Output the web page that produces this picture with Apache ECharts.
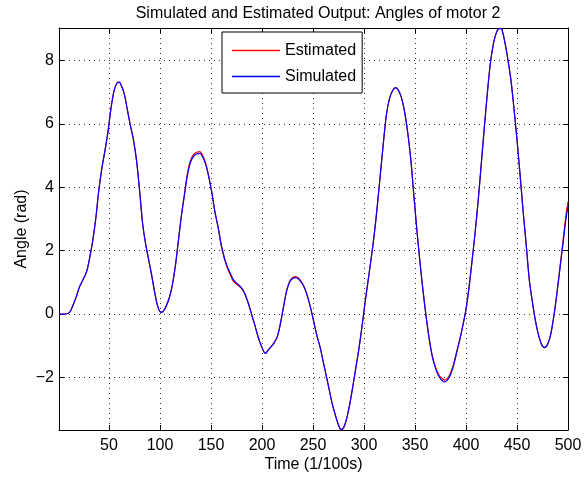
<!DOCTYPE html>
<html><head><meta charset="utf-8">
<script src="https://cdn.jsdelivr.net/npm/echarts@6/dist/echarts.min.js"></script>
<style>html,body{margin:0;padding:0;background:#fff}#c{width:587px;height:478px}</style>
</head><body><div id="c"></div>
<script>
const titleText = 'Simulated and Estimated Output: Angles of motor 2';
const xName = 'Time (1/100s)';
const yName = 'Angle (rad)';
const seriesNames = ['Estimated', 'Simulated'];
const xTicks = [50, 100, 150, 200, 250, 300, 350, 400, 450, 500];
const yTicks = [-2, 0, 2, 4, 6, 8];
const xRange = [1, 500];
const yRange = [-3.66, 9.03];

const time = [1,5,9,12,15,18,21,24,27,29,31,34,37,40,43,46,49,52,55,58,60,62,65,68,71,74,77,80,83,86,89,92,95,98,101,103,106,109,112,115,118,121,124,127,130,133,136,139,142,145,148,151,154,157,160,163,166,169,172,175,178,181,184,187,190,193,196,199,202,203.5,206,209,212,215,218,221,224,227,230,233,236,239,242,245,248,251,254,257,260,263,266,269,272,275,277.5,280,283,286,289,292,295,298,301,304,307,310,313,316,319,322,325,328,331,334,337,340,343,346,349,352,355,358,361,364,367,370,373,376,379,382,385,388,391,394,397,400,403,406,409,412,415,418,421,424,427,430,433,435,438,441,444,447,450,453,456,459,462,465,468,471,474,477,480,483,486,489,492,495,498,500];

const simulated = [0,0,0.01,0.08,0.3,0.55,0.85,1.05,1.25,1.45,1.76,2.3,3.0,3.9,4.6,5.15,5.75,6.5,7.05,7.3,7.32,7.22,6.95,6.45,5.95,5.5,4.85,3.9,2.85,2.2,1.7,1.2,0.65,0.22,0.06,0.08,0.25,0.5,0.9,1.5,2.3,3.1,3.75,4.4,4.8,4.98,5.05,5.07,4.95,4.7,4.3,3.8,3.2,2.75,2.2,1.8,1.5,1.28,1.08,0.98,0.9,0.78,0.58,0.3,-0.03,-0.35,-0.7,-0.98,-1.2,-1.24,-1.14,-1.03,-0.9,-0.72,-0.32,0.2,0.7,1.0,1.12,1.15,1.1,0.98,0.8,0.52,0.15,-0.28,-0.7,-1.05,-1.5,-1.95,-2.4,-2.85,-3.2,-3.5,-3.64,-3.58,-3.3,-2.85,-2.3,-1.7,-1.1,-0.4,0.35,1.05,1.75,2.5,3.4,4.4,5.4,6.3,6.8,7.05,7.15,7.05,6.8,6.35,5.7,4.85,3.7,2.6,1.6,0.7,-0.1,-0.8,-1.35,-1.7,-1.95,-2.08,-2.14,-2.08,-1.9,-1.6,-1.2,-0.8,-0.35,0.15,0.85,1.7,2.6,3.6,4.75,5.9,7.0,7.95,8.55,8.9,9.02,9.0,8.6,8.05,7.4,6.5,5.5,4.4,3.25,2.2,1.1,0.4,-0.2,-0.65,-0.95,-1.06,-0.95,-0.65,-0.1,0.6,1.4,2.2,3.0,3.4];

const estimated = [0,0,0.01,0.08,0.3,0.55,0.85,1.05,1.25,1.45,1.76,2.3,3.0,3.9,4.6,5.15,5.75,6.5,7.05,7.3,7.32,7.22,6.95,6.45,5.95,5.5,4.85,3.9,2.85,2.2,1.7,1.2,0.65,0.22,0.06,0.08,0.25,0.5,0.9,1.5,2.3,3.12,3.8,4.46,4.86,5.04,5.11,5.13,5.0,4.74,4.32,3.8,3.2,2.73,2.17,1.76,1.46,1.23,1.03,0.94,0.87,0.76,0.57,0.3,-0.03,-0.35,-0.7,-0.98,-1.2,-1.24,-1.14,-1.03,-0.9,-0.71,-0.3,0.22,0.73,1.03,1.15,1.18,1.13,1.0,0.81,0.52,0.15,-0.28,-0.7,-1.05,-1.5,-1.95,-2.4,-2.85,-3.2,-3.5,-3.66,-3.6,-3.3,-2.85,-2.3,-1.7,-1.1,-0.4,0.35,1.05,1.75,2.5,3.4,4.4,5.4,6.3,6.8,7.05,7.15,7.05,6.8,6.35,5.7,4.85,3.7,2.6,1.6,0.7,-0.1,-0.78,-1.32,-1.66,-1.9,-2.02,-2.08,-2.02,-1.85,-1.56,-1.17,-0.78,-0.34,0.15,0.85,1.7,2.6,3.6,4.75,5.9,7.0,7.95,8.55,8.9,9.02,9.0,8.6,8.05,7.4,6.5,5.5,4.4,3.25,2.2,1.1,0.4,-0.2,-0.65,-0.95,-1.06,-0.95,-0.65,-0.08,0.64,1.46,2.28,3.12,3.55];

const FONT = '"Liberation Sans", Arial, Helvetica, sans-serif';
const chart = echarts.init(document.getElementById('c'), null, {renderer: 'canvas'});
const minus = v => String(v).replace('-', '\u2212');
const gridDots = {show: true, lineStyle: {color: '#333', width: 1, type: [1, 4]}};
const baseAxisLine = {show: true, onZero: false, lineStyle: {color: '#000', width: 1}};
const tick = {show: true, inside: true, length: 5, lineStyle: {color: '#000', width: 1}};

chart.setOption({
  animation: false,
  backgroundColor: '#fff',
  title: {
    text: titleText, left: 313, top: 1, textAlign: 'center',
    textStyle: {fontFamily: FONT, fontSize: 16, fontWeight: 'normal', color: '#000'}
  },
  legend: {
    orient: 'vertical', left: 222, top: 32,
    padding: [10, 6, 8, 10], itemGap: 9, itemWidth: 48, itemHeight: 1.5, icon: 'rect',
    backgroundColor: '#fff', borderColor: '#000', borderWidth: 1,
    textStyle: {fontFamily: FONT, fontSize: 16, color: '#000', lineHeight: 17},
    data: seriesNames
  },
  grid: {left: 59, right: 19, top: 28, bottom: 47, containLabel: false},
  xAxis: [{
    type: 'value', min: xRange[0], max: xRange[1], splitNumber: 10, minInterval: 50, maxInterval: 50,
    name: xName, nameLocation: 'middle', nameGap: 27, nameMoveOverlap: false,
    nameTextStyle: {fontFamily: FONT, fontSize: 16, color: '#000'},
    axisLine: baseAxisLine, axisTick: tick,
    axisLabel: {fontFamily: FONT, fontSize: 16, color: '#000', margin: 8,
      formatter: v => xTicks.includes(v) ? String(v) : ''},
    splitLine: gridDots
  }, {
    type: 'value', position: 'top', min: xRange[0], max: xRange[1], splitNumber: 10, minInterval: 50, maxInterval: 50,
    axisLine: baseAxisLine, axisTick: tick, axisLabel: {show: false}, splitLine: {show: false}
  }],
  yAxis: [{
    type: 'value', min: yRange[0], max: yRange[1], splitNumber: 6, minInterval: 2, maxInterval: 2,
    name: yName, nameLocation: 'middle', nameGap: 29, nameRotate: 90, nameMoveOverlap: false,
    nameTextStyle: {fontFamily: FONT, fontSize: 16, color: '#000'},
    axisLine: baseAxisLine, axisTick: tick,
    axisLabel: {fontFamily: FONT, fontSize: 16, color: '#000', margin: 5,
      formatter: v => yTicks.includes(v) ? minus(v) : ''},
    splitLine: gridDots
  }, {
    type: 'value', position: 'right', min: yRange[0], max: yRange[1], splitNumber: 6, minInterval: 2, maxInterval: 2,
    axisLine: baseAxisLine, axisTick: tick, axisLabel: {show: false}, splitLine: {show: false}
  }],
  series: [{
    name: seriesNames[0], type: 'line', symbol: 'none', smooth: 0.3,
    lineStyle: {color: '#ff0000', width: 1.2}, itemStyle: {color: '#ff0000'},
    data: time.map((t, i) => [t, estimated[i]])
  }, {
    name: seriesNames[1], type: 'line', symbol: 'none', smooth: 0.3,
    lineStyle: {color: '#0000ff', width: 1.2}, itemStyle: {color: '#0000ff'},
    data: time.map((t, i) => [t, simulated[i]])
  }]
});
</script>
</body></html>
